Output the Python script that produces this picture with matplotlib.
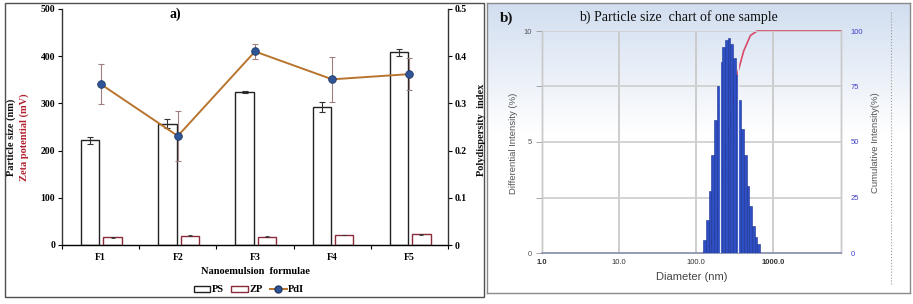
import numpy as np
import matplotlib
matplotlib.use("Agg")
import matplotlib.pyplot as plt
from matplotlib.patches import Rectangle
from matplotlib.lines import Line2D
from matplotlib.patches import Patch

# ---------------- data: panel a ----------------
formulae = ["F1", "F2", "F3", "F4", "F5"]
ps_values = [222, 257, 324, 293, 408]
ps_errors = [7, 10, 2, 11, 7]
zp_values = [16, 20, 18, 21, 22.5]
zp_errors = [0.5, 0.5, 1, 0.5, 1]
pdi_values = [0.341, 0.231, 0.410, 0.351, 0.362]
pdi_errors = [0.043, 0.052, 0.016, 0.047, 0.034]
left_ticks = [0, 100, 200, 300, 400, 500]
right_ticks = [0, 0.1, 0.2, 0.3, 0.4, 0.5]
right_ticklabels = ["0", "0.1", "0.2", "0.3", "0.4", "0.5"]

# ---------------- data: panel b ----------------
bin_edges_nm = [123, 134, 145, 157, 170, 185, 200, 217, 235, 255, 276,
                300, 325, 352, 382, 414, 449, 486, 527, 571, 619, 671]
diff_intensity = [0.6, 1.5, 2.8, 4.4, 6.0, 7.5, 8.6, 9.3, 9.6, 9.7, 9.4,
                  8.8, 8.0, 6.9, 5.6, 4.4, 3.0, 2.1, 1.2, 0.7, 0.4]
cum_diam_nm = [123, 150, 180, 203, 250, 300, 337, 411, 503, 614, 7500]
cum_intensity = [0, 3, 10, 27, 50, 68, 80, 91, 98, 100, 100]
gap_lines_nm = [203, 351]
xb_ticks = [1, 10, 100, 1000]
xb_ticklabels = ["1.0", "10.0", "100.0", "1000.0"]
yb_ticks = [0, 2.5, 5, 7.5, 10]
yb_ticklabels = ["0", "", "5", "", "10"]
yb2_ticks = [0, 25, 50, 75, 100]

W, H = 913, 304
fig = plt.figure(figsize=(W / 100, H / 100), dpi=100)
fig.patch.set_facecolor("white")

def fx(px):
    return px / W

def fy(py):
    return 1 - py / H

serif = "Liberation Serif"
sans = "Liberation Sans"

# ---------------- panel a ----------------
fig.patches.append(Rectangle((fx(5), fy(297)), fx(484) - fx(5), fy(3) - fy(297),
                             transform=fig.transFigure, fill=False,
                             edgecolor="#505050", linewidth=1.0, zorder=0))

ax = fig.add_axes([fx(62), fy(245), fx(448) - fx(62), fy(9) - fy(245)])
x = np.arange(len(formulae))
ax.bar(x - 0.135, ps_values, width=0.24, facecolor="white", edgecolor="#222222",
       linewidth=1.0, zorder=2)
ax.errorbar(x - 0.135, ps_values, yerr=ps_errors, fmt="none", ecolor="#333333",
            elinewidth=0.8, capsize=2, capthick=0.8, zorder=3)
ax.bar(x + 0.155, zp_values, width=0.24, facecolor="white", edgecolor="#8B2A3A",
       linewidth=1.0, zorder=2)
ax.errorbar(x + 0.155, zp_values, yerr=zp_errors, fmt="none", ecolor="#333333",
            elinewidth=0.6, capsize=1.5, capthick=0.6, zorder=3)
ax.set_xlim(-0.5, 4.5)
ax.set_ylim(0, 500)
ax.set_yticks(left_ticks)
ax.set_xticks(x)
ax.set_xticklabels(formulae)
ax.set_xticks(np.arange(-0.5, 5, 1), minor=True)
ax.tick_params(axis="x", which="major", length=0, pad=6)
ax.tick_params(axis="x", which="minor", length=3, direction="out", width=0.8)
ax.tick_params(axis="y", length=3, direction="out", width=0.8, pad=2)
for lab in ax.get_xticklabels() + ax.get_yticklabels():
    lab.set_fontfamily(serif)
    lab.set_fontweight("bold")
    lab.set_fontsize(7)
ax.spines["top"].set_visible(False)
ax.spines["right"].set_visible(False)
for s in ["left", "bottom"]:
    ax.spines[s].set_color("#333333")
    ax.spines[s].set_linewidth(1.0)
ax.set_facecolor("none")
ax.set_xlabel("Nanoemulsion  formulae", fontfamily=serif, fontweight="bold",
              fontsize=7.5, labelpad=3)

ax2 = ax.twinx()
ax2.errorbar(x, pdi_values, yerr=pdi_errors, fmt="none", ecolor="#a08080",
             elinewidth=0.8, capsize=2, capthick=0.8, zorder=3)
ax2.plot(x, pdi_values, color="#B8742E", linewidth=1.4, marker="o",
         markersize=5.5, markerfacecolor="#2F5597", markeredgecolor="#1F3864",
         markeredgewidth=0.6, zorder=4)
ax2.set_ylim(0, 0.5)
ax2.set_yticks(right_ticks)
ax2.set_yticklabels(right_ticklabels)
ax2.tick_params(axis="y", length=3, direction="out", width=0.8, pad=2)
for lab in ax2.get_yticklabels():
    lab.set_fontfamily(serif)
    lab.set_fontweight("bold")
    lab.set_fontsize(7)
ax2.spines["top"].set_visible(False)
ax2.spines["left"].set_visible(False)
ax2.spines["right"].set_color("#333333")
ax2.spines["right"].set_linewidth(1.0)

fig.text(fx(175), fy(14), "a)", fontfamily=serif, fontweight="bold", fontsize=10,
         ha="center", va="center")
fig.text(fx(11), fy(137), "Particle size (nm)", rotation=90, fontfamily=serif,
         fontweight="bold", fontsize=7.5, ha="center", va="center", color="#111111")
fig.text(fx(24), fy(137), "Zeta potential (mV)", rotation=90, fontfamily=serif,
         fontweight="bold", fontsize=7.5, ha="center", va="center", color="#B22230")
fig.text(fx(481), fy(130), "Polydispersity  index", rotation=90, fontfamily=serif,
         fontweight="bold", fontsize=7.5, ha="center", va="center", color="#111111")

handles = [Patch(facecolor="white", edgecolor="#222222", linewidth=1.0),
           Patch(facecolor="white", edgecolor="#8B2A3A", linewidth=1.0),
           Line2D([0], [0], color="#B8742E", linewidth=1.4, marker="o",
                  markersize=5, markerfacecolor="#2F5597", markeredgecolor="#1F3864")]
fig.legend(handles, ["PS", "ZP", "PdI"], loc="center", bbox_to_anchor=(fx(249), fy(290)),
           ncol=3, frameon=False, handlelength=1.6, handleheight=0.6, handletextpad=0.15,
           columnspacing=0.7, prop={"family": serif, "weight": "bold", "size": 7.5})

# ---------------- panel b ----------------
bg = fig.add_axes([fx(487), fy(293), fx(910) - fx(487), fy(3) - fy(293)], zorder=-1)
grad = np.linspace(0, 1, 200)[:, None]
top_col = np.array([0.82, 0.87, 0.94])
bot_col = np.array([1.0, 1.0, 1.0])
mix = np.clip(grad / 0.45, 0, 1)
img = top_col[None, None, :] * (1 - mix[..., None]) + bot_col[None, None, :] * mix[..., None]
img = np.repeat(img, 2, axis=1)
bg.imshow(img, aspect="auto", extent=[0, 1, 0, 1], origin="upper")
bg.set_xticks([])
bg.set_yticks([])
for s in bg.spines.values():
    s.set_color("#8a8a8a")
    s.set_linewidth(1.0)
bg.axvline(0.955, ymin=0.03, ymax=0.97, color="#9a9a9a", linewidth=0.8, linestyle=":")

axb = fig.add_axes([fx(542), fy(253), fx(841) - fx(542), fy(31) - fy(253)])
axb.set_facecolor("none")
axb.set_xscale("log")
axb.set_xlim(1, 7500)
axb.set_ylim(0, 10)
axb.grid(False)
for gx in xb_ticks[1:]:
    axb.axvline(gx, color="#c9c9c9", linewidth=1.3, zorder=0)
for gy in yb_ticks[1:]:
    axb.axhline(gy, color="#d0d0d0", linewidth=1.3, zorder=0)

edges = np.array(bin_edges_nm, dtype=float)
axb.bar(edges[:-1], diff_intensity, width=np.diff(edges), align="edge",
        color="#2E4FC4", edgecolor="#1c3290", linewidth=0.4, zorder=3)
for gl in gap_lines_nm:
    axb.axvline(gl, ymin=0, ymax=0.86, color="#e8ecf6", linewidth=0.9, zorder=4)

axb2 = axb.twinx()
axb2.set_ylim(0, 100)
axb2.plot(cum_diam_nm, cum_intensity, color="#d84a6a", linewidth=1.2, zorder=1,
          clip_on=False)
axb.set_zorder(axb2.get_zorder() + 1)
axb.patch.set_visible(False)

axb.set_xticks(xb_ticks)
axb.set_xticklabels(xb_ticklabels)
axb.xaxis.set_minor_locator(matplotlib.ticker.NullLocator())
axb.set_yticks(yb_ticks)
axb.set_yticklabels(yb_ticklabels)
axb.tick_params(axis="x", length=0, pad=4, labelsize=5.5, labelcolor="#333333")
axb.tick_params(axis="y", length=4, width=0.6, color="#999999", pad=3,
                labelsize=5.5, labelcolor="#555555")
for lab, t in zip(axb.get_xticklabels(), xb_ticklabels):
    lab.set_fontfamily(sans)
    if t in ("1.0", "1000.0"):
        lab.set_fontweight("bold")
for lab in axb.get_yticklabels():
    lab.set_fontfamily(sans)

axb2.set_yticks(yb2_ticks)
axb2.tick_params(axis="y", length=0, pad=7, labelsize=5.5, labelcolor="#4040c8")
for lab in axb2.get_yticklabels():
    lab.set_fontfamily(sans)

for a in (axb, axb2):
    for s in a.spines.values():
        s.set_color("#c9c9c9")
        s.set_linewidth(1.0)
axb.spines["top"].set_visible(False)
axb2.spines["top"].set_visible(False)
axb.spines["bottom"].set_color("#8a93b0")
axb.spines["bottom"].set_linewidth(1.3)
axb2.spines["bottom"].set_visible(False)

axb.set_xlabel("Diameter (nm)", fontfamily=sans, fontsize=8, color="#444444", labelpad=5)
fig.text(fx(513), fy(143), "Differential Intensity (%)", rotation=90, fontfamily=sans,
         fontsize=6.8, color="#555555", ha="center", va="center")
fig.text(fx(875), fy(143), "Cumulative Intensity(%)", rotation=90, fontfamily=sans,
         fontsize=6.8, color="#555555", ha="center", va="center")
fig.text(fx(678), fy(17), "b) Particle size  chart of one sample", fontfamily=serif,
         fontsize=10, color="#111111", ha="center", va="center")
fig.text(fx(507), fy(18), "b)", fontfamily=serif, fontweight="bold", fontsize=11,
         color="#111111", ha="center", va="center")

fig.savefig("out.png", dpi=100)
